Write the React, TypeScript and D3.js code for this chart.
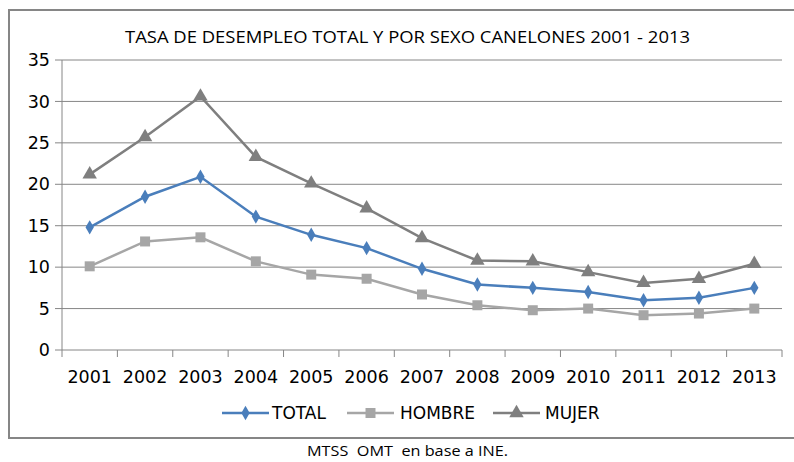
import React from 'react';
import * as d3 from 'd3';

const years = ['2001', '2002', '2003', '2004', '2005', '2006', '2007', '2008', '2009', '2010', '2011', '2012', '2013'];
const total = [14.8, 18.5, 20.9, 16.1, 13.9, 12.3, 9.8, 7.9, 7.5, 7.0, 6.0, 6.3, 7.5];
const hombre = [10.1, 13.1, 13.6, 10.7, 9.1, 8.6, 6.7, 5.4, 4.8, 5.0, 4.2, 4.4, 5.0];
const mujer = [21.2, 25.7, 30.6, 23.3, 20.1, 17.1, 13.5, 10.8, 10.7, 9.4, 8.1, 8.6, 10.4];
const yTicks = [0, 5, 10, 15, 20, 25, 30, 35];

const series = [
  { name: 'TOTAL', values: total, color: '#4a7ebb', marker: 'diamond' },
  { name: 'HOMBRE', values: hombre, color: '#a6a6a6', marker: 'square' },
  { name: 'MUJER', values: mujer, color: '#7f7f7f', marker: 'triangle' },
];

const markerPath = (type: string) => {
  if (type === 'diamond') return d3.symbol(d3.symbolDiamond, 60)();
  if (type === 'square') return d3.symbol(d3.symbolSquare, 100)();
  return d3.symbol(d3.symbolTriangle, 90)();
};

const App = () => {
  const width = 794;
  const height = 462;
  const plot = { left: 62, right: 782, top: 60, bottom: 350 };

  const x = d3.scaleBand<string>().domain(years).range([plot.left, plot.right]);
  const y = d3.scaleLinear().domain([0, 35]).range([plot.bottom, plot.top]);
  const cx = (yr: string) => (x(yr) as number) + x.bandwidth() / 2;

  const line = d3.line<number>()
    .x((_, i) => cx(years[i]))
    .y(d => y(d));

  const legendItems = [
    { x: 222, textX: 272 },
    { x: 347, textX: 400 },
    { x: 493, textX: 545 },
  ];

  return (
    <svg width={width} height={height} style={{ position: 'absolute', left: 0, top: 0, background: '#fff' }}>
      <rect x={9} y={10} width={800} height={428} fill="#fff" stroke="#868686" strokeWidth={2} />

      <text x={125} y={43} textLength={565} lengthAdjust="spacingAndGlyphs" fontFamily="Open Sans" fontSize={16.5} fill="#000">
        TASA DE DESEMPLEO TOTAL Y POR SEXO CANELONES 2001 - 2013
      </text>

      {/* grid lines */}
      {yTicks.map(t => (
        <g key={t}>
          <line x1={plot.left} x2={plot.right} y1={y(t)} y2={y(t)} stroke="#868686" strokeWidth={1} />
          <line x1={plot.left - 7} x2={plot.left} y1={y(t)} y2={y(t)} stroke="#868686" strokeWidth={1} />
          <text x={50} y={y(t)} dy="0.35em" textAnchor="end" fontFamily="DejaVu Sans" fontSize={17.5} fill="#000">
            {t}
          </text>
        </g>
      ))}

      {/* axes */}
      <line x1={plot.left} x2={plot.left} y1={plot.top} y2={plot.bottom} stroke="#868686" strokeWidth={1} />
      {[...years.map(yr => x(yr) as number), plot.right].map((px, i) => (
        <line key={i} x1={px} x2={px} y1={plot.bottom} y2={plot.bottom + 7} stroke="#868686" strokeWidth={1} />
      ))}
      {years.map(yr => (
        <text key={yr} x={cx(yr)} y={377} dy="0.35em" textAnchor="middle" fontFamily="DejaVu Sans" fontSize={17.5} fill="#000">
          {yr}
        </text>
      ))}

      {/* series */}
      {series.map(s => (
        <g key={s.name}>
          <path d={line(s.values) as string} fill="none" stroke={s.color} strokeWidth={2.5} />
          {s.values.map((v, i) => (
            <path key={i} d={markerPath(s.marker) as string} transform={`translate(${cx(years[i])},${y(v)})`} fill={s.color} />
          ))}
        </g>
      ))}

      {/* legend */}
      {series.map((s, i) => {
        const it = legendItems[i];
        return (
          <g key={s.name}>
            <line x1={it.x} x2={it.x + 47} y1={413} y2={413} stroke={s.color} strokeWidth={2.5} />
            <path d={markerPath(s.marker) as string} transform={`translate(${it.x + 23.5},413)`} fill={s.color} />
            <text x={it.textX} y={413} dy="0.35em" fontFamily="DejaVu Sans" fontSize={17} fill="#000">
              {s.name}
            </text>
          </g>
        );
      })}

      <text x={307} y={451} dy="0.35em" textLength={201} lengthAdjust="spacingAndGlyphs" fontFamily="Open Sans" fontSize={15} fill="#000" style={{ whiteSpace: 'pre' }}>
        {'MTSS  OMT  en base a INE.'}
      </text>
    </svg>
  );
};

export default App;
